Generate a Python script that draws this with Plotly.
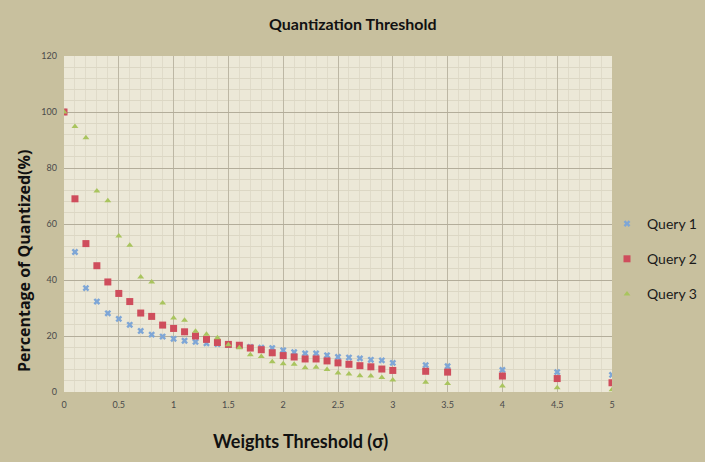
import plotly.graph_objects as go

x_vals = [0, 0.1, 0.2, 0.3, 0.4, 0.5, 0.6, 0.7, 0.8, 0.9, 1.0, 1.1, 1.2, 1.3, 1.4, 1.5,
          1.6, 1.7, 1.8, 1.9, 2.0, 2.1, 2.2, 2.3, 2.4, 2.5, 2.6, 2.7, 2.8, 2.9, 3.0,
          3.3, 3.5, 4.0, 4.5, 5.0]

query1 = [100, 50, 37.1, 32.3, 28.1, 26.1, 24, 21.8, 20.5, 19.8, 19, 18.3, 17.9, 17.4, 17.1, 16.8,
          16.5, 16.1, 15.8, 15.7, 14.9, 14.2, 13.8, 13.8, 13.1, 12.5, 12.3, 12, 11.5, 11.3, 10.4,
          9.6, 9.2, 7.9, 7.1, 6.1]

query2 = [100, 69, 53, 45.1, 39.3, 35.2, 32.3, 28.2, 27, 23.9, 22.7, 21.5, 20, 18.8, 17.7, 17,
          16.7, 15.7, 15.1, 14, 13, 12.5, 11.8, 11.8, 11.1, 10.4, 9.9, 9.4, 9, 8.2, 7.7,
          7.4, 7.1, 5.7, 4.8, 3.3]

query3 = [100, 94.8, 90.8, 71.8, 68.3, 55.7, 52.4, 41.1, 39.3, 31.8, 26.4, 25.6, 21.7, 20.6, 19.4, 16.9,
          15.8, 13.3, 12.7, 10.8, 10.1, 9.9, 8.7, 8.8, 8, 6.8, 6.4, 5.8, 5.7, 5.2, 4.3,
          3.5, 3, 2.1, 1.5, 0.8]

series_names = ["Query 1", "Query 2", "Query 3"]
x_tick_vals = [0, 0.5, 1, 1.5, 2, 2.5, 3, 3.5, 4, 4.5, 5]
x_tick_text = ["0", "0.5", "1", "1.5", "2", "2.5", "3", "3.5", "4", "4.5", "5"]
y_tick_vals = [0, 20, 40, 60, 80, 100, 120]

fig = go.Figure()
styles = [
    dict(symbol="x", color="#7ea6d6", size=6),
    dict(symbol="square", color="#cf4d5c", size=7),
    dict(symbol="triangle-up", color="#a9c45e", size=6),
]
for name, ys, st, g in zip(series_names, [query1, query2, query3], styles, ["a", "b", "c"]):
    fig.add_trace(go.Scatter(
        x=x_vals, y=ys, mode="markers", name=name, legendgroup=g,
        marker=dict(symbol=st["symbol"], color=st["color"], size=st["size"], line=dict(width=0)),
    ))

W, H = 705, 462
L, R, T, B = 64, 612, 56, 392

fig.update_layout(
    width=W, height=H,
    margin=dict(l=L, r=W - R, t=T, b=H - B, autoexpand=False),
    paper_bgcolor="#c8c09e",
    plot_bgcolor="#ece8d7",
    font=dict(family="Lato", color="#222222"),
    showlegend=True,
    legend=dict(
        x=(607 - L) / (R - L), y=(B - 208) / (B - T), xanchor="left", yanchor="top",
        bgcolor="rgba(0,0,0,0)", font=dict(size=14, color="#1a1a1a", family="Lato"),
        tracegroupgap=14, itemwidth=30,
    ),
    xaxis=dict(
        range=[0, 5], tickvals=x_tick_vals, ticktext=x_tick_text,
        showgrid=True, gridcolor="#bdb7a4", gridwidth=1,
        minor=dict(dtick=0.1, showgrid=True, gridcolor="#e0dbc9", gridwidth=1),
        zeroline=False, showline=False, ticks="",
        tickfont=dict(size=9, color="#4a4a4a"), ticklabelstandoff=6,
    ),
    yaxis=dict(
        range=[0, 120], tickvals=y_tick_vals,
        showgrid=True, gridcolor="#b3ad9a", gridwidth=1,
        minor=dict(dtick=4, showgrid=True, gridcolor="#dcd7c4", gridwidth=1),
        zeroline=False, showline=False, ticks="",
        tickfont=dict(size=9, color="#4a4a4a"), ticklabelstandoff=6,
    ),
    annotations=[
        dict(text="<b>Quantization Threshold</b>", xref="paper", yref="paper",
             x=(353 - L) / (R - L), y=(B - 24) / (B - T), xanchor="center", yanchor="middle",
             showarrow=False, font=dict(size=16, color="#111111", family="Lato")),
        dict(text="<b>Weights Threshold (σ)</b>", xref="paper", yref="paper",
             x=(300 - L) / (R - L), y=(B - 441) / (B - T), xanchor="center", yanchor="middle",
             showarrow=False, font=dict(size=18, color="#111111", family="Lato")),
        dict(text="<b>Percentage of Quantized(%)</b>", xref="paper", yref="paper",
             x=(24 - L) / (R - L), y=(B - 261) / (B - T), xanchor="center", yanchor="middle",
             textangle=-90, showarrow=False, font=dict(size=16, color="#111111", family="Open Sans")),
    ],
)

fig.write_html("out.html")
